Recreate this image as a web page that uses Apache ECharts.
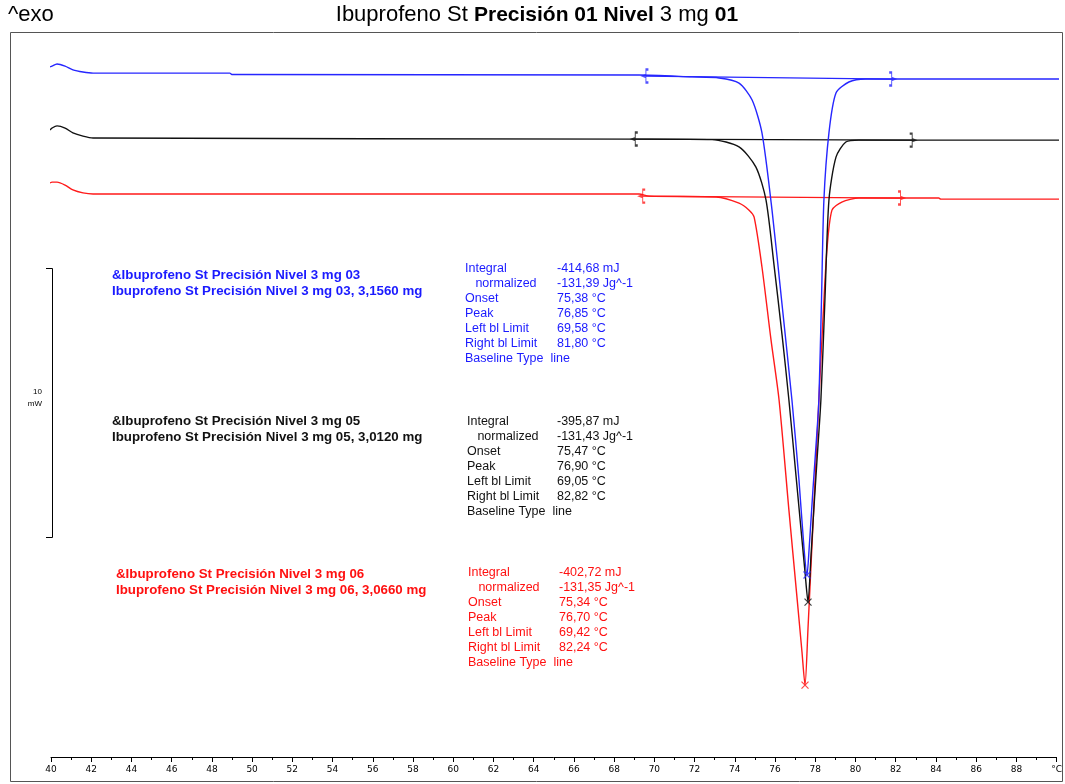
<!DOCTYPE html>
<html>
<head>
<meta charset="utf-8">
<script src="https://cdn.jsdelivr.net/npm/echarts@6/dist/echarts.min.js"></script>
<style>html,body{margin:0;padding:0;background:#fff}#c{width:1065px;height:784px}</style>
</head>
<body>
<div id="c"></div>
<script>
// ---- data (temperature °C, heat flow mW, curves stacked by instrument offset) ----
const blueTemp = [39.95,40.05,40.30,40.70,41.09,41.59,42.09,48.89,48.99,69.24,71.88,73.22,74.21,74.86,75.35,75.85,76.35,76.84,77.19,77.44,77.59,77.69,77.89,78.09,78.18,78.31,78.43,78.68,79.03,79.67,80.51,90.25];
const blueHF   = [-1.00,-0.97,-0.89,-0.97,-1.11,-1.19,-1.23,-1.23,-1.28,-1.30,-1.37,-1.41,-1.60,-2.23,-3.45,-6.32,-9.84,-13.37,-16.34,-18.87,-19.87,-18.95,-16.64,-14.49,-13.37,-9.66,-5.94,-3.45,-1.97,-1.56,-1.45,-1.45];
const blackTemp = [39.95,40.05,40.30,40.70,41.09,41.59,42.09,69.24,72.87,74.21,75.05,75.55,75.95,76.35,76.69,77.04,77.34,77.49,77.64,77.79,77.93,78.08,78.28,78.48,78.68,79.03,79.52,80.17,90.25];
const blackHF   = [-3.34,-3.27,-3.19,-3.27,-3.45,-3.57,-3.64,-3.68,-3.70,-3.97,-4.72,-5.94,-8.36,-10.96,-13.37,-16.16,-18.57,-19.76,-20.88,-19.13,-17.42,-15.68,-13.37,-9.66,-5.94,-4.35,-3.79,-3.72,-3.72];
const redTemp = [39.95,40.05,40.30,40.70,41.09,41.59,42.09,69.24,69.74,73.07,74.21,74.71,74.96,75.35,75.80,76.20,76.69,77.09,77.34,77.49,77.64,77.79,77.98,78.18,78.38,78.58,78.83,79.32,80.17,84.14,84.24,90.25];
const redHF   = [-5.31,-5.28,-5.28,-5.39,-5.57,-5.68,-5.72,-5.72,-5.80,-5.83,-6.06,-6.32,-6.58,-8.43,-11.14,-13.37,-17.46,-20.69,-22.73,-23.96,-21.84,-19.50,-16.53,-13.37,-10.40,-7.80,-6.32,-6.02,-5.87,-5.87,-5.91,-5.91];

// baseline limits (°C) and heat flow at the limits (mW)
const blueLimits = [69.58, 81.80];   const blueLimitHF = [-1.34, -1.45];
const blackLimits = [69.05, 82.82];  const blackLimitHF = [-3.68, -3.72];
const redLimits = [69.42, 82.24];    const redLimitHF = [-5.80, -5.87];

// x axis
const xMin = 40, xMax = 90, xStep = 2;
const xUnitLabel = '°C';

// texts
const titleParts = ['Ibuprofeno St ', 'Precisión 01 Nivel', ' 3 mg ', '01'];
const exoLabel = '^exo';
const scaleLabel = ['10', 'mW'];
const statLabels = ['Integral', '   normalized', 'Onset', 'Peak', 'Left bl Limit', 'Right bl Limit', 'Baseline Type  line'];
const blueHeader = ['&Ibuprofeno St Precisión Nivel 3 mg 03', 'Ibuprofeno St Precisión Nivel 3 mg 03, 3,1560 mg'];
const blueStats = ['-414,68 mJ', '-131,39 Jg^-1', '75,38 °C', '76,85 °C', '69,58 °C', '81,80 °C'];
const blackHeader = ['&Ibuprofeno St Precisión Nivel 3 mg 05', 'Ibuprofeno St Precisión Nivel 3 mg 05, 3,0120 mg'];
const blackStats = ['-395,87 mJ', '-131,43 Jg^-1', '75,47 °C', '76,90 °C', '69,05 °C', '82,82 °C'];
const redHeader = ['&Ibuprofeno St Precisión Nivel 3 mg 06', 'Ibuprofeno St Precisión Nivel 3 mg 06, 3,0660 mg'];
const redStats = ['-402,72 mJ', '-131,35 Jg^-1', '75,34 °C', '76,70 °C', '69,42 °C', '82,24 °C'];

// ---- build ----
const BLUE = '#2626ff', BLACK = '#111111', RED = '#ff1a1a';
const TXT_BLUE = '#1a1aff', TXT_RED = '#ff1010';
const zip = (a, b) => a.map((v, i) => [v, b[i]]);
const peakOf = (t, h) => { let k = 0; h.forEach((v, i) => { if (v < h[k]) k = i; }); return [t[k], h[k]]; };

const LB = 'path://M4,0 L2,0 L2,5.5 L0,6.5 L2,7.5 L2,13 L4,13';
const RB = 'path://M0,0 L2,0 L2,5.5 L4,6.5 L2,7.5 L2,13 L0,13';
const XM = 'path://M0,0 L8,8 M8,0 L0,8';

function curveSeries(name, t, h, lim, limHF, color) {
  const base = {
    type: 'line', data: [[lim[0], limHF[0]], [lim[1], limHF[1]]], symbol: 'none',
    lineStyle: { color: color, width: 1.2 }, silent: true, clip: false, z: 2
  };
  const curve = {
    name: name, type: 'line', data: zip(t, h), symbol: 'none', smooth: 0.25,
    lineStyle: { color: color, width: 1.4 }, clip: false, silent: true, z: 3
  };
  const bl = {
    type: 'scatter', data: [[lim[0], limHF[0]]], symbol: LB, symbolSize: [5, 13],
    itemStyle: { color: 'transparent', borderColor: color, borderWidth: 1.5 }, silent: true, z: 4
  };
  const br = {
    type: 'scatter', data: [[lim[1], limHF[1]]], symbol: RB, symbolSize: [5, 13],
    itemStyle: { color: 'transparent', borderColor: color, borderWidth: 1.5 }, silent: true, z: 4
  };
  const peak = {
    type: 'scatter', data: [peakOf(t, h)], symbol: XM, symbolSize: 7,
    itemStyle: { color: 'transparent', borderColor: color, borderWidth: 1.2 }, silent: true, z: 5
  };
  return [base, curve, bl, br, peak];
}

const series = [].concat(
  curveSeries('mg 06', redTemp, redHF, redLimits, redLimitHF, RED),
  curveSeries('mg 03', blueTemp, blueHF, blueLimits, blueLimitHF, BLUE),
  curveSeries('mg 05', blackTemp, blackHF, blackLimits, blackLimitHF, BLACK)
);

const F = 'Liberation Sans, Arial, sans-serif';
function block(header, stats, color, hx, hy, sx, vx, sy) {
  return [
    { type: 'text', x: hx, y: hy, style: { text: header.join('\n'), fill: color, font: 'bold 13.3px ' + F, lineHeight: 16.5, textVerticalAlign: 'top', verticalAlign: 'top' } },
    { type: 'text', x: sx, y: sy, style: { text: statLabels.join('\n'), fill: color, font: '12.5px ' + F, lineHeight: 15, textVerticalAlign: 'top', verticalAlign: 'top' } },
    { type: 'text', x: vx, y: sy, style: { text: stats.join('\n'), fill: color, font: '12.5px ' + F, lineHeight: 15, textVerticalAlign: 'top', verticalAlign: 'top' } }
  ];
}

const graphic = [
  { type: 'rect', shape: { x: 10.5, y: 32.5, width: 1052, height: 749 }, style: { fill: 'none', stroke: '#555', lineWidth: 1 }, silent: true },
  { type: 'text', x: 8, y: 4, style: { text: exoLabel, fill: '#000', font: '22px ' + F, textVerticalAlign: 'top', verticalAlign: 'top' } },
  { type: 'text', x: 537, y: 4, style: {
      text: '{n|' + titleParts[0] + '}{b|' + titleParts[1] + '}{n|' + titleParts[2] + '}{b|' + titleParts[3] + '}',
      textAlign: 'center', align: 'center', textVerticalAlign: 'top', verticalAlign: 'top',
      rich: { n: { font: '22px ' + F, fill: '#000' }, b: { font: 'bold 21px ' + F, fill: '#000' } } } },
  { type: 'polyline', shape: { points: [[46, 268.5], [52.5, 268.5], [52.5, 537.5], [46, 537.5]] }, style: { stroke: '#000', lineWidth: 1, fill: 'none' } },
  { type: 'text', x: 42, y: 386, style: { text: scaleLabel.join('\n'), fill: '#000', font: '8px ' + F, lineHeight: 12, textAlign: 'right', align: 'right', textVerticalAlign: 'top', verticalAlign: 'top' } }
].concat(
  block(blueHeader, blueStats, TXT_BLUE, 112, 267, 465, 557, 261),
  block(blackHeader, blackStats, BLACK, 112, 413, 467, 557, 414),
  block(redHeader, redStats, TXT_RED, 116, 566, 468, 559, 565)
);

const chart = echarts.init(document.getElementById('c'), null, { renderer: 'canvas' });
chart.setOption({
  animation: false,
  backgroundColor: '#fff',
  grid: { left: 51, right: 8, top: 40, bottom: 27, containLabel: false },
  xAxis: {
    type: 'value', min: xMin, max: xMax, interval: xStep, position: 'bottom',
    axisLine: { show: true, onZero: false, lineStyle: { color: '#000', width: 1 } },
    axisTick: { show: true, length: 5, lineStyle: { color: '#000' } },
    minorTick: { show: true, splitNumber: 2, length: 3, lineStyle: { color: '#000' } },
    splitLine: { show: false },
    axisLabel: { color: '#000', fontSize: 9, fontFamily: 'DejaVu Sans', margin: 8,
      formatter: v => (v === xMax ? xUnitLabel : String(v)) }
  },
  yAxis: { type: 'value', min: -26.63, max: 0, show: false },
  series: series,
  graphic: graphic
});
</script>
</body>
</html>
